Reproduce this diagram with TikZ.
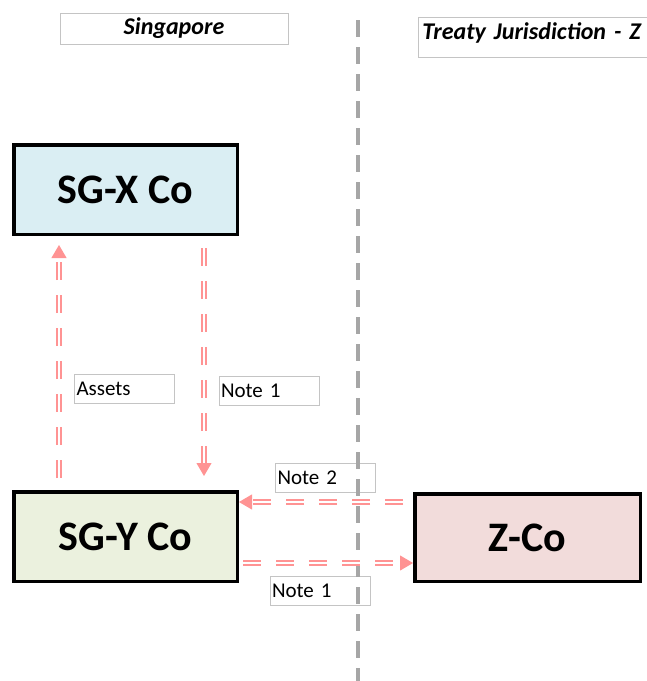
\documentclass[tikz,border=0pt]{standalone}
\usepackage{fontspec}
\setmainfont{Carlito}
\usetikzlibrary{arrows.meta,positioning,calc}
\definecolor{hellblau}{HTML}{DAEEF3}
\definecolor{hellgruen}{HTML}{EBF1DE}
\definecolor{hellrot}{HTML}{F2DCDB}
\definecolor{rosa}{HTML}{FF9393}
\definecolor{rand}{HTML}{C4C4C4}
\definecolor{grenze}{HTML}{A6A6A6}

\begin{document}
\begin{tikzpicture}[x=1pt,y=-1pt,
	firma/.style={draw=black, line width=3.5pt, minimum width=223.5pt, minimum height=89.5pt, inner sep=0pt, font=\fontsize{42}{48}\selectfont\bfseries},
	notiz/.style={draw=rand, line width=0.8pt, minimum width=100pt, minimum height=29pt, inner sep=2pt, text width=96pt, align=left, font=\fontsize{21}{24}\selectfont},
	kopf/.style={draw=rand, line width=0.8pt, inner sep=0pt, font=\fontsize{24}{28}\selectfont\bfseries\itshape},
	fluss/.style={draw=none,
		postaction={draw=rosa, double=white, double distance=2pt, line width=2pt, dash pattern=on 18pt off 15pt, shorten >=10pt},
		postaction={draw=rosa, line width=1pt, dash pattern=on 0pt off 2000pt, -{Triangle[length=13pt,width=15pt]}}}]
	\useasboundingbox (0,0) rectangle (647,681);
	\clip (0,0) rectangle (647,681);

	% Kopfzeilen
	\node[kopf, minimum width=228pt, minimum height=31pt] (singapur) at (174,28.5) {Singapore};
	\node[kopf, minimum width=240pt, minimum height=40pt, text width=232pt, align=left, anchor=north west] (vertrag) at (418,17) {\raisebox{12pt}{Treaty Jurisdiction - Z}};

	% Firmen
	\node[firma, fill=hellblau] (sgx) at (125.5,189.5) {SG-X Co};
	\node[firma, fill=hellgruen] (sgy) at (125.5,536.5) {SG-Y Co};
	\node[firma, fill=hellrot, minimum width=225.5pt, minimum height=87.5pt] (zco) at (527.5,537.5) {Z-Co};

	% Beschriftungen
	\node[notiz] (assets) at (124.5,388.5) {Assets};
	\node[notiz] (note1a) at (269,391) {Note 1};
	\node[notiz] (note2) at (325.5,477.5) {Note 2};
	\node[notiz] (note1b) at (320,590.5) {Note 1};

	% Grenze
	\coordinate (grenzeoben) at (358,20);
	\coordinate (grenzeunten) at (358,681);
	\draw[grenze, line width=4pt, dash pattern=on 17pt off 10pt] (grenzeoben) -- (grenzeunten);

	% Fluesse
	\draw[fluss] ($(sgy.north west)+(47,-12)$) -- ($(sgx.south west)+(47,9)$);
	\draw[fluss] ($(sgx.south west)+(192,12)$) -- ($(sgy.north west)+(192,-14)$);
	\coordinate (links) at ($(zco.north west)+(-10,10)$);
	\draw[fluss] (links) -- (sgy.east |- links);
	\coordinate (rechts) at ($(sgy.south east)+(4,-20)$);
	\draw[fluss] (rechts) -- (zco.west |- rechts);
\end{tikzpicture}
\end{document}
